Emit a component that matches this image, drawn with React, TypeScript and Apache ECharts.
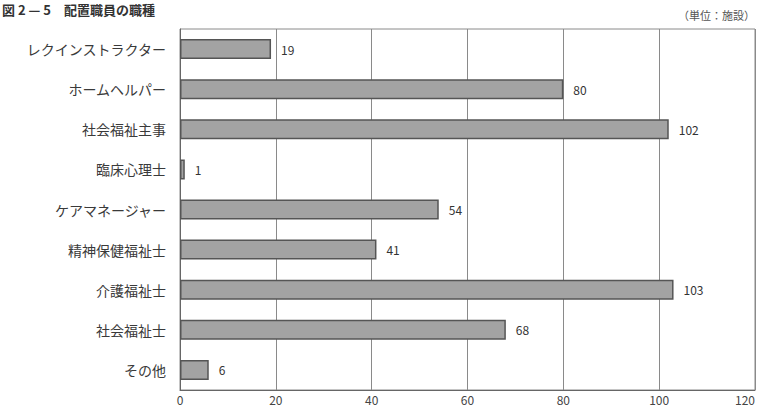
import React, { useEffect, useRef } from "react";
import * as echarts from "echarts";

const categories = [
  "レクインストラクター",
  "ホームヘルパー",
  "社会福祉主事",
  "臨床心理士",
  "ケアマネージャー",
  "精神保健福祉士",
  "介護福祉士",
  "社会福祉士",
  "その他",
];
const values = [19, 80, 102, 1, 54, 41, 103, 68, 6];
const xTicks = { min: 0, max: 120, interval: 20 };
const titleText = "図 2 — 5　配置職員の職種";
const unitText = "（単位：施設）";

const FONT = '"Noto Sans CJK JP", "Noto Sans", sans-serif';

export default function App() {
  const ref = useRef<HTMLDivElement>(null);
  useEffect(() => {
    if (!ref.current) return;
    const chart = echarts.init(ref.current, null, { renderer: "svg" });
    chart.setOption({
      animation: false,
      backgroundColor: "#ffffff",
      textStyle: { fontFamily: FONT },
      grid: {
        left: 180,
        right: 12,
        top: 29,
        bottom: 18,
        show: true,
        borderColor: "#8a8a8a",
        borderWidth: 1,
        containLabel: false,
      },
      graphic: [
        {
          type: "text",
          left: 2,
          top: 3,
          style: {
            text: titleText,
            font: `bold 13px ${FONT}`,
            fill: "#333",
          },
        },
        {
          type: "text",
          right: 12,
          top: 9,
          style: {
            text: unitText,
            font: `11px ${FONT}`,
            fill: "#555",
          },
        },
      ],
      xAxis: {
        type: "value",
        min: xTicks.min,
        max: xTicks.max,
        interval: xTicks.interval,
        axisLine: { show: true, lineStyle: { color: "#666", width: 1 } },
        axisTick: { show: false },
        axisLabel: {
          color: "#444",
          fontSize: 12,
          lineHeight: 12,
          margin: 3,
          fontFamily: FONT,
          showMaxLabel: true,
          formatter: (v: number) => String(v),
          alignMaxLabel: "right",
        },
        splitLine: { show: true, lineStyle: { color: "#8a8a8a", width: 1 } },
      },
      yAxis: {
        type: "category",
        data: categories,
        inverse: true,
        axisLine: { show: true, lineStyle: { color: "#666", width: 1 } },
        axisTick: { show: false },
        axisLabel: {
          color: "#3a3a3a",
          fontSize: 14,
          margin: 14,
          fontFamily: FONT,
        },
      },
      series: [
        {
          type: "bar",
          data: values,
          barWidth: 20,
          itemStyle: {
            color: "#a3a3a3",
            borderColor: "#555",
            borderWidth: 1.5,
          },
          label: {
            show: true,
            position: "right",
            distance: 10,
            color: "#333",
            fontSize: 12,
            fontFamily: FONT,
          },
        },
      ],
    });
    return () => chart.dispose();
  }, []);
  return (
    <div
      ref={ref}
      style={{ position: "fixed", left: 0, top: 0, width: 767, height: 408 }}
    />
  );
}
